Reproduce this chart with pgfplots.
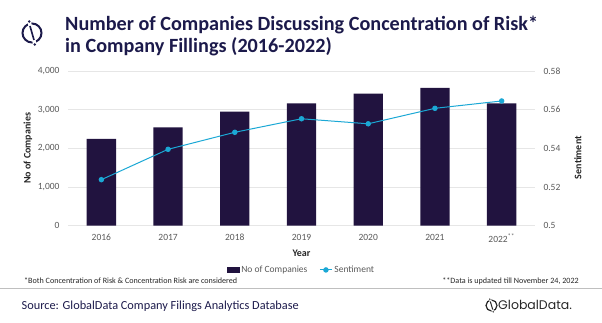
\documentclass[border=0pt]{standalone}
\usepackage{pgfplots}
\pgfplotsset{compat=1.18}
\usepackage{fontspec}
\setmainfont{Carlito}
\newfontfamily\logofont{Poppins}
\definecolor{barcol}{HTML}{21133F}
\definecolor{linecol}{HTML}{1BA8D5}
\definecolor{navy}{HTML}{1C1A4B}
\definecolor{txtgray}{HTML}{595959}
\definecolor{gridgray}{HTML}{E6E6E6}
\definecolor{labcol}{HTML}{262626}
\begin{document}
\begin{tikzpicture}[x=1pt,y=1pt]
\path[use as bounding box] (0pt,0pt) rectangle (602pt,323pt);
% title
\node[anchor=base west, inner sep=0pt, text=navy, font=\bfseries\fontsize{20.2}{24}\selectfont] at (65pt,292pt) {Number of Companies Discussing Concentration of Risk*};
\node[anchor=base west, inner sep=0pt, text=navy, font=\bfseries\fontsize{20.2}{24}\selectfont] at (65pt,270pt) {in Company Fillings (2016-2022)};
% title logo
\draw[navy, line width=2pt] (32pt,290pt) circle (9.5pt);
\draw[white, line width=3.5pt] (29pt,302pt) -- (35pt,278pt);
\draw[navy, line width=1.6pt] (30pt,297pt) -- (34pt,283pt);
\fill[navy] (29.2pt,301.5pt) circle (1.4pt);
\fill[navy] (34.8pt,278.5pt) circle (1.4pt);

\begin{axis}[at={(68pt,97.3pt)}, anchor=south west, scale only axis,
  width=467pt, height=154.7pt,
  xmin=-0.5, xmax=6.5, ymin=0, ymax=4000,
  xtick={0,1,2,3,4,5,6},
  xticklabels={2016,2017,2018,2019,2020,2021,2022\textsuperscript{**}},
  ytick={0,1000,2000,3000,4000},
  axis line style={draw=none}, major tick length=0pt,
  ymajorgrids, grid style={gridgray, line width=0.8pt},
  ticklabel style={font=\fontsize{9.5}{11}\selectfont, text=txtgray},
  yticklabel style={xshift=-5pt},
  xticklabel style={yshift=-5pt},
  /pgf/number format/1000 sep={,},
  /pgf/number format/assume math mode=true,
  ylabel={No of Companies},
  ylabel style={at={(axis description cs:-0.0857,0.5)}, anchor=center, font=\bfseries\fontsize{10}{12}\selectfont, text=labcol},
  xlabel={Year},
  xlabel style={at={(axis description cs:0.5,-0.178)}, anchor=center, font=\bfseries\fontsize{10}{12}\selectfont, text=labcol},
]
\addplot[ybar, bar width=29.3pt, fill=barcol, draw=none] coordinates {
  (0,2242) (1,2545) (2,2948) (3,3165) (4,3414) (5,3561) (6,3165)};
\end{axis}

\begin{axis}[at={(68pt,97.3pt)}, anchor=south west, scale only axis,
  width=467pt, height=154.7pt,
  xmin=-0.5, xmax=6.5, ymin=0.5, ymax=0.58,
  axis x line=none, axis y line*=right,
  ytick={0.5,0.52,0.54,0.56,0.58},
  axis line style={draw=none}, major tick length=0pt,
  ticklabel style={font=\fontsize{9.5}{11}\selectfont, text=txtgray},
  yticklabel style={xshift=5pt},
  /pgf/number format/assume math mode=true,
  ylabel={Sentiment},
  ylabel style={at={(axis description cs:1.092,0.44)}, anchor=center, font=\bfseries\fontsize{10}{12}\selectfont, text=labcol},
  legend style={at={(0.5,-0.286)}, anchor=center, draw=none, fill=none,
    legend columns=2, font=\fontsize{9.5}{11}\selectfont, text=txtgray,
    /tikz/every even column/.append style={column sep=10pt},
    inner sep=0pt, nodes={inner sep=2pt}},
]
\addlegendimage{legend image code/.code={\fill[barcol] (0pt,-2.5pt) rectangle (12pt,3pt);}}
\addlegendentry{No of Companies}
\addplot[linecol, line width=1pt, mark=*, mark size=2.2pt, mark options={fill=linecol, draw=linecol},
  legend image code/.code={\draw[linecol, line width=1pt] (0pt,0pt) -- (12pt,0pt); \fill[linecol] (6pt,0pt) circle (2.2pt);}]
  coordinates {(0,0.5238) (1,0.5395) (2,0.5483) (3,0.5553) (4,0.5527) (5,0.5607) (6,0.5645)};
\addlegendentry{Sentiment}
\end{axis}

% footnotes
\node[anchor=base west, inner sep=0pt, text=labcol, font=\fontsize{8.1}{9}\selectfont] at (24pt,39pt) {*Both Concentration of Risk \& Concentration Risk are considered};
\node[anchor=base east, inner sep=0pt, text=labcol, font=\fontsize{8.1}{9}\selectfont] at (579pt,39pt) {**Data is updated till November 24, 2022};
\draw[black!25, line width=0.8pt] (0pt,35pt) -- (602pt,35pt);
% source
\node[anchor=base west, inner sep=0pt, text=navy, font=\fontsize{12.3}{14}\selectfont] at (21.5pt,13.5pt) {Source: GlobalData Company Filings Analytics Database};
% GlobalData logo
\draw[labcol, line width=1.2pt] (491.5pt,17.5pt) circle (5.5pt);
\draw[white, line width=2.2pt] (490pt,24.5pt) -- (493pt,10.5pt);
\draw[labcol, line width=1pt] (490.3pt,21.5pt) -- (492.7pt,13.5pt);
\fill[labcol] (489.8pt,23.8pt) circle (0.8pt);
\fill[labcol] (493.2pt,11.2pt) circle (0.8pt);
\node[anchor=base west, inner sep=0pt, text=labcol, font=\logofont\fontsize{12.5}{14}\selectfont] at (498pt,13pt) {GlobalData.};
\end{tikzpicture}
\end{document}
